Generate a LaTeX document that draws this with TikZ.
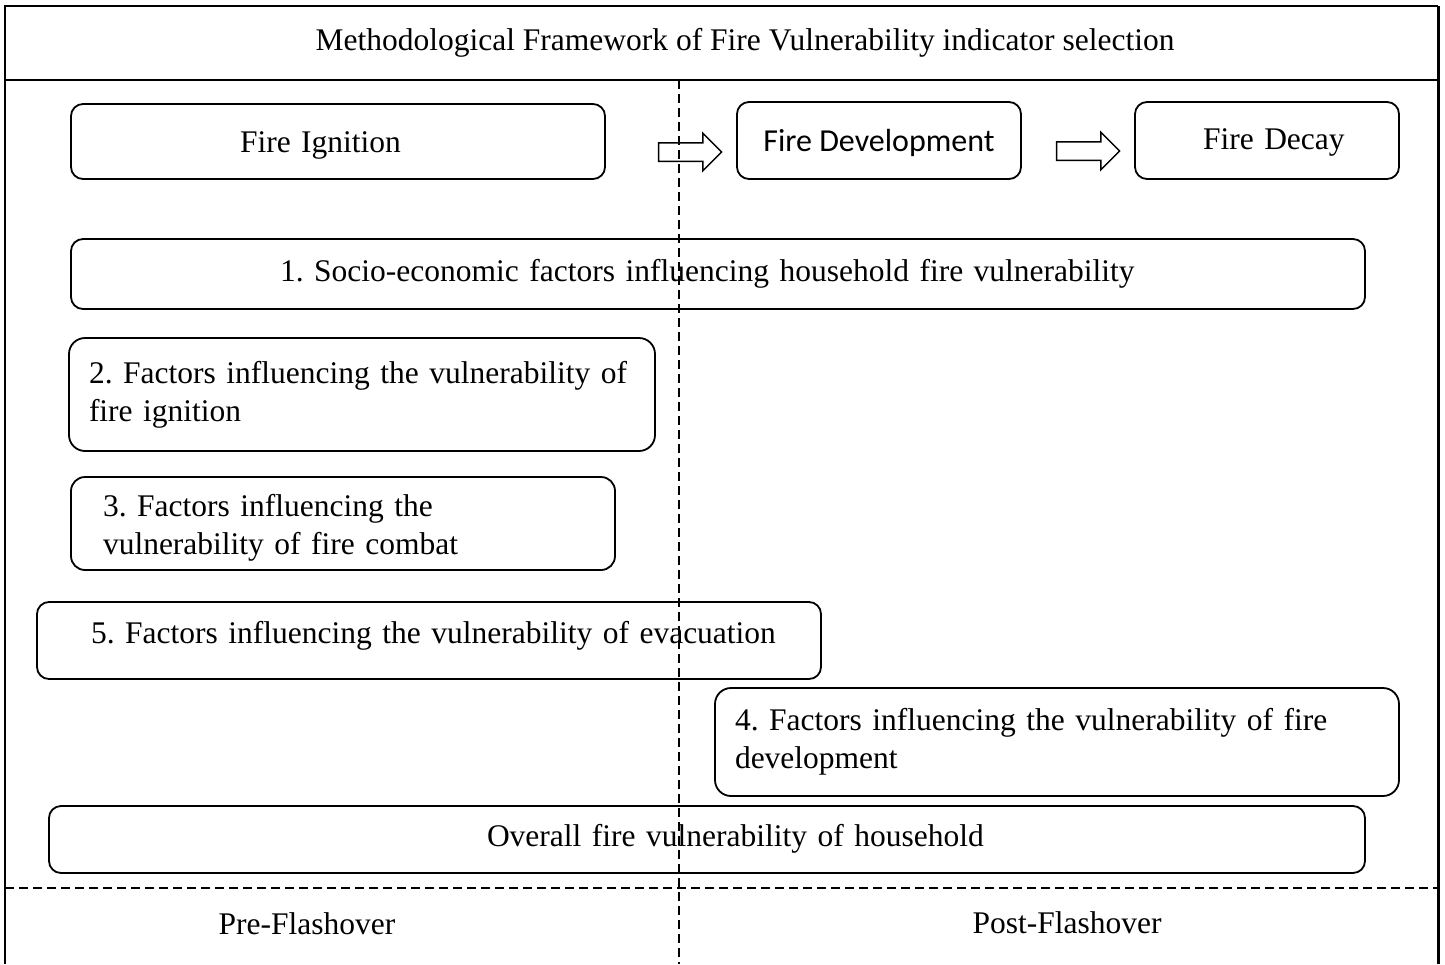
\documentclass[tikz,border=0pt]{standalone}
\usepackage{fontspec}
\setmainfont{Liberation Serif}
\newfontfamily\calibri{Carlito}
\usetikzlibrary{shapes.arrows}
\setlength{\parindent}{0pt}
\frenchspacing
\tikzset{
  bx/.style={draw, line width=1.8pt, rounded corners=12pt, inner sep=0pt,
    font=\fontsize{31.5}{38}\selectfont},
  one/.style={text height=22pt, text depth=#1},
  lbl/.style={inner sep=0pt, font=\fontsize{31.5}{38}\selectfont},
  frame/.style={line width=2pt},
  dsh/.style={line width=1.6pt, dash pattern=on 9pt off 5pt},
  blockarrow/.style={draw, line width=1.5pt, single arrow, single arrow head extend=9.5pt,
    inner xsep=0pt, inner ysep=8.5pt, minimum height=63pt},
}
\begin{document}
\begin{tikzpicture}[x=1pt,y=-1pt]
\useasboundingbox (0,0) rectangle (1445,964);
% outer frame
\coordinate (fbl) at (5,964);
\coordinate (ftl) at (5,6);
\coordinate (ftr) at (1438,6);
\coordinate (fbr) at (1438,964);
\coordinate (hl) at (5,80);
\coordinate (hr) at (1438,80);
\draw[frame] (fbl) -- (ftl) -- (ftr);
\draw[line width=3pt] (ftr) -- (fbr);
\draw[frame] (hl) -- (hr);
\node[lbl] (title) at (745,43) {Methodological Framework of Fire Vulnerability indicator selection};
% dashed separators
\coordinate (vt) at (679,80);
\coordinate (vb) at (679,964);
\coordinate (dl) at (5,888);
\coordinate (dr) at (1438,888);
\draw[dsh] (vt) -- (vb);
\draw[dsh] (dl) -- (dr);
% phase boxes
\node[bx, one=1pt, minimum width=534pt, minimum height=75pt, text width=534pt, align=left] (ign) at (338,141.5) {\hspace*{169pt}Fire Ignition};
\node[bx, one=0pt, minimum width=284pt, minimum height=77pt, font=\calibri\fontsize{32}{38}\selectfont] (dev) at (879,140.5) {Fire Development};
\node[bx, one=4pt, minimum width=264pt, minimum height=77pt, text width=264pt, align=left] (dec) at (1267,140.5) {\hspace*{68pt}Fire Decay};
\node[blockarrow] (a1) at (685.5,152) {};
\node[blockarrow] (a2) at (1083.5,151) {};
% factor boxes
\node[bx, one=7pt, minimum width=1294pt, minimum height=70pt, text width=1294pt, align=left] (b1) at (718,274) {\hspace*{209pt}1. Socio-economic factors influencing household fire vulnerability};
\node[bx, rounded corners=16pt, minimum height=113pt, inner xsep=20pt, text width=546pt, align=left] (b2) at (362,394.5) {2. Factors influencing the vulnerability of\\fire ignition};
\node[bx, rounded corners=14pt, minimum height=93pt, inner xsep=32pt, text width=480pt, align=left] (b3) at (343,523.5) {\rule{0pt}{30pt}3. Factors influencing the\\vulnerability of fire combat};
\node[bx, one=16pt, minimum width=784pt, minimum height=77pt, text width=784pt, align=left] (b5) at (429,640.5) {\hspace*{54pt}5. Factors influencing the vulnerability of evacuation};
\node[bx, rounded corners=16pt, minimum height=108pt, inner xsep=20pt, text width=644pt, align=left] (b4) at (1057,742) {4. Factors influencing the vulnerability of fire\\development};
\node[bx, one=8pt, minimum width=1316pt, minimum height=67pt, text width=1316pt, align=left] (ov) at (707,839.5) {\hspace*{438pt}Overall fire vulnerability of household};
% phase labels
\node[lbl] (pre) at (307,924) {Pre-Flashover};
\node[lbl] (post) at (1067,923) {Post-Flashover};
\end{tikzpicture}
\end{document}
